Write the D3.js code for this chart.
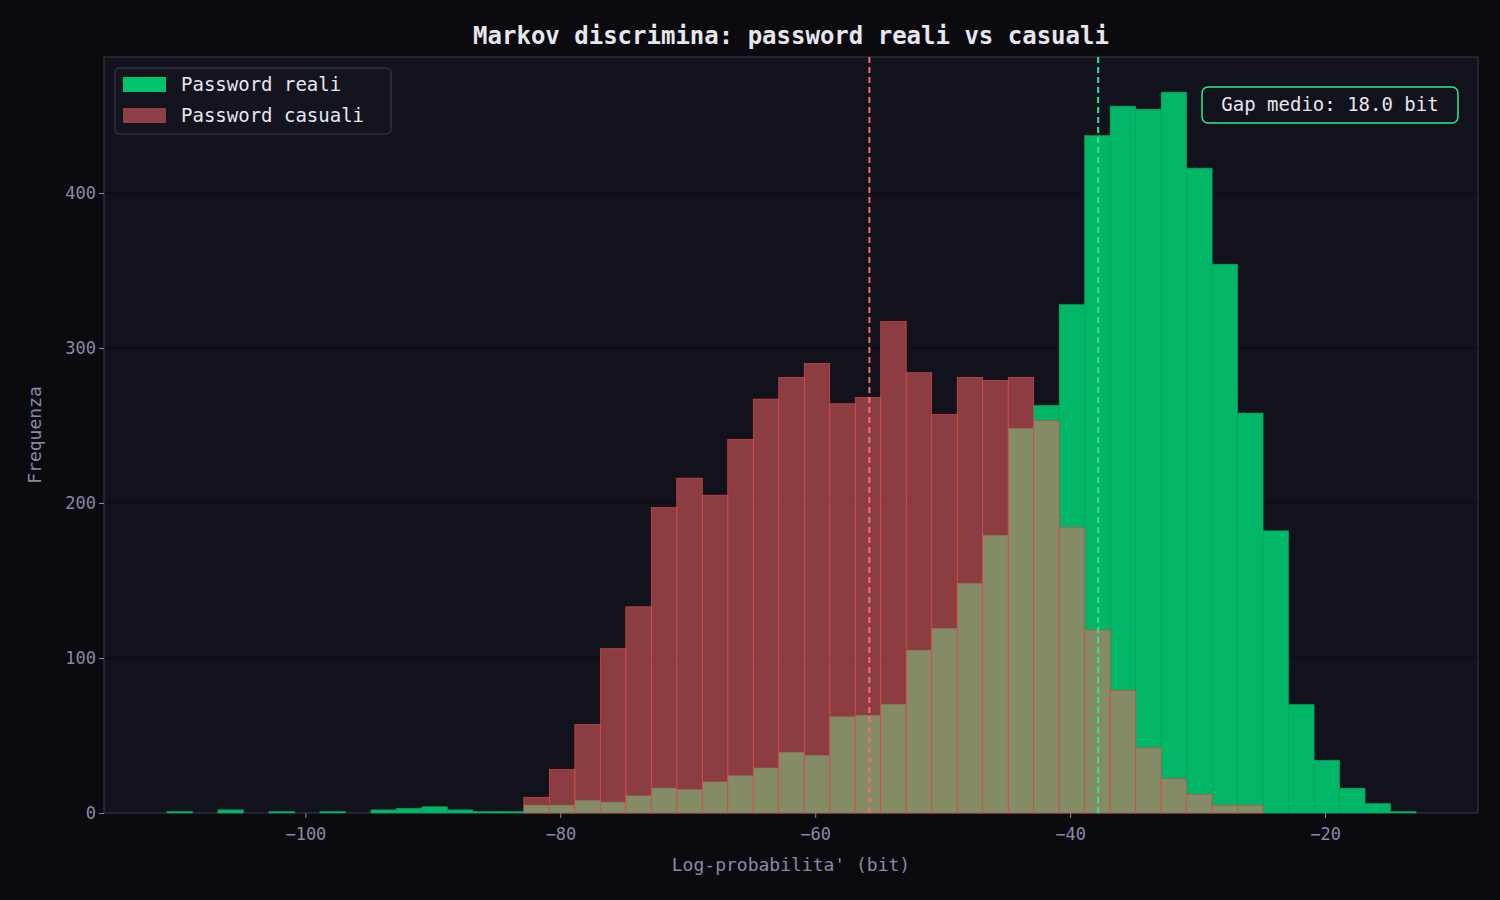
<!DOCTYPE html>
<html><head><meta charset="utf-8">
<script src="https://cdn.jsdelivr.net/npm/d3@7"></script>
<style>body{margin:0;background:#0b0b0f;}</style>
</head><body>
<svg id="chart" width="1500" height="900"></svg>
<script>
// shared histogram bins: start, width, counts per bin
const binStart = -110.86;
const binWidth = 2;
const realCounts = [1,0,2,0,1,0,1,0,2,3,4,2,1,1,5,5,8,7,11,16,15,20,24,29,39,37,62,63,70,105,119,148,179,248,263,328,437,456,454,465,416,354,258,182,70,34,16,6,1];
const randomCounts = [0,0,0,0,0,0,0,0,0,0,0,0,0,0,10,28,57,106,133,197,216,205,241,267,281,290,264,268,317,284,257,281,279,281,253,184,118,79,42,22,12,5,5,0,0,0,0,0,0];
const meanReal = -37.8;
const meanRandom = -55.75;
const xTicks = [-100,-80,-60,-40,-20];
const yTicks = [0,100,200,300,400];

const svg = d3.select("#chart");
const m = {left:104, right:1478, top:57, bottom:813};
const x = d3.scaleLinear().domain([-115.8,-8.0]).range([m.left,m.right]);
const y = d3.scaleLinear().domain([0,487.7]).range([m.bottom,m.top]);

svg.append("rect").attr("x",m.left).attr("y",m.top).attr("width",m.right-m.left).attr("height",m.bottom-m.top)
    .attr("fill","#12121c").attr("stroke","#3a3a4c");

//grid
svg.append("g").selectAll("line").data(yTicks.slice(1)).join("line")
    .attr("x1",m.left).attr("x2",m.right).attr("y1",d=>y(d)).attr("y2",d=>y(d))
    .attr("stroke","#000").attr("stroke-opacity",0.35);

const bins = (counts) => counts.map((c,i)=>({x0:binStart+i*binWidth, x1:binStart+(i+1)*binWidth, c:c})).filter(d=>d.c>0);

svg.append("g").selectAll("rect").data(bins(realCounts)).join("rect")
    .attr("x",d=>x(d.x0)).attr("width",d=>x(d.x1)-x(d.x0))
    .attr("y",d=>y(d.c)).attr("height",d=>y(0)-y(d.c))
    .attr("fill","#00c46c").attr("fill-opacity",0.92)
    .attr("stroke","#00a85c").attr("stroke-width",0.6);

svg.append("g").selectAll("rect").data(bins(randomCounts)).join("rect")
    .attr("x",d=>x(d.x0)).attr("width",d=>x(d.x1)-x(d.x0))
    .attr("y",d=>y(d.c)).attr("height",d=>y(0)-y(d.c))
    .attr("fill","#fb6565").attr("fill-opacity",0.52)
    .attr("stroke","#d84848").attr("stroke-width",0.7);

//mean lines
[[meanRandom,"#ff6b6b"],[meanReal,"#2ee88a"]].forEach(([v,c])=>{
    svg.append("line").attr("x1",x(v)).attr("x2",x(v)).attr("y1",m.top).attr("y2",m.bottom)
        .attr("stroke",c).attr("stroke-width",2).attr("stroke-dasharray","6,4");
});

//axes
const font = "DejaVu Sans Mono, monospace";
const tickCol = "#8a87aa";
const gx = svg.append("g").attr("transform",`translate(0,${m.bottom})`)
    .call(d3.axisBottom(x).tickValues(xTicks).tickSize(5).tickFormat(d=>d<0?"\u2212"+Math.abs(d):d));
const gy = svg.append("g").attr("transform",`translate(${m.left},0)`)
    .call(d3.axisLeft(y).tickValues(yTicks).tickSize(5));
[gx,gy].forEach(g=>{
    g.select(".domain").remove();
    g.selectAll("line").attr("stroke",tickCol);
    g.selectAll("text").attr("fill",tickCol).style("font-family",font).style("font-size","17px");
});
gx.selectAll("text").attr("dy","1.1em");

svg.append("text").attr("x",(m.left+m.right)/2).attr("y",871).attr("text-anchor","middle")
    .attr("fill",tickCol).style("font-family",font).style("font-size","18px").text("Log-probabilita' (bit)");
svg.append("text").attr("transform",`translate(41,${(m.top+m.bottom)/2}) rotate(-90)`).attr("text-anchor","middle")
    .attr("fill",tickCol).style("font-family",font).style("font-size","18px").text("Frequenza");
svg.append("text").attr("x",(m.left+m.right)/2).attr("y",44).attr("text-anchor","middle")
    .attr("fill","#e6e6ee").style("font-family",font).style("font-size","24px").style("font-weight","bold")
    .text("Markov discrimina: password reali vs casuali");

//legend
const lg = svg.append("g");
lg.append("rect").attr("x",115).attr("y",68).attr("width",276).attr("height",66).attr("rx",4)
    .attr("fill","#14141e").attr("stroke","#3a3a4c");
[["Password reali","#00c46c",85],["Password casuali","#8f3f45",116]].forEach(([t,c,yy])=>{
    lg.append("rect").attr("x",123).attr("y",yy-8).attr("width",43).attr("height",15).attr("fill",c);
    lg.append("text").attr("x",181).attr("y",yy+6).attr("fill","#e6e6ee").style("font-family",font).style("font-size","19px").text(t);
});

//gap box
svg.append("rect").attr("x",1202).attr("y",87).attr("width",256).attr("height",36).attr("rx",6)
    .attr("fill","#12121c").attr("stroke","#2ee88a").attr("stroke-width",1.5);
svg.append("text").attr("x",1330).attr("y",111).attr("text-anchor","middle").attr("fill","#e6e6ee")
    .style("font-family",font).style("font-size","19px").text("Gap medio: " + (meanReal-meanRandom).toFixed(1) + " bit");
</script>
</body></html>
